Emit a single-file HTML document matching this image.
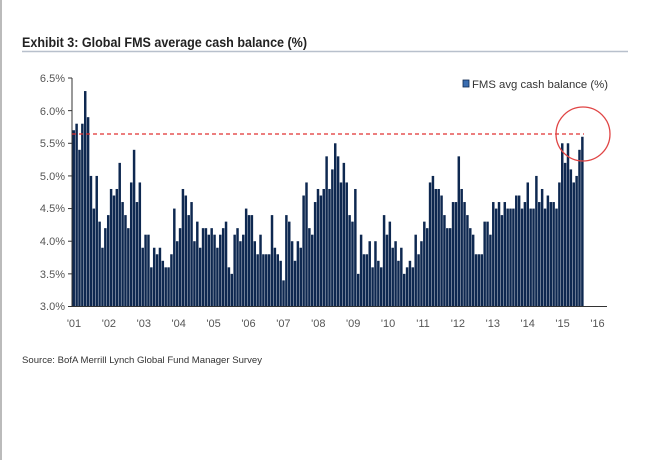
<!DOCTYPE html>
<html><head><meta charset="utf-8"><style>
body{margin:0;background:#fff;width:650px;height:460px;overflow:hidden}
svg{display:block}
</style></head><body>
<svg id="s" width="650" height="460" xmlns="http://www.w3.org/2000/svg" font-family="Liberation Sans, sans-serif">
<rect x="0" y="0" width="2" height="460" fill="#bbb"/>
<text x="22" y="47" font-size="13.5" font-weight="bold" fill="#222" textLength="285" lengthAdjust="spacingAndGlyphs">Exhibit 3: Global FMS average cash balance (%)</text>
<line x1="22" y1="51.5" x2="628" y2="51.5" stroke="#b8c0cc" stroke-width="1.5"/>
<g font-size="11" fill="#555" text-anchor="end">
<text x="65" y="82">6.5%</text><text x="65" y="115">6.0%</text><text x="65" y="147">5.5%</text><text x="65" y="180">5.0%</text><text x="65" y="212">4.5%</text><text x="65" y="245">4.0%</text><text x="65" y="278">3.5%</text><text x="65" y="310">3.0%</text>
</g>
<g id="bars" fill="#0e2850"></g>
<line x1="72" y1="78" x2="72" y2="307" stroke="#333" stroke-width="1"/>
<line x1="72" y1="306.5" x2="607" y2="306.5" stroke="#333" stroke-width="1"/>
<g id="ticks" stroke="#333"></g>
<g font-size="11" fill="#555" text-anchor="middle" id="xl"></g>
<line x1="72" y1="134" x2="584" y2="134" stroke="#e03030" stroke-width="1.3" stroke-dasharray="4,3"/>
<circle cx="583" cy="134" r="27" fill="none" stroke="#e04545" stroke-width="1.3"/>
<rect x="463" y="80" width="6" height="7" fill="#3a6db0" stroke="#0e2850" stroke-width="0.8"/>
<text x="472" y="88" font-size="11" fill="#333" textLength="136" lengthAdjust="spacingAndGlyphs">FMS avg cash balance (%)</text>
<text x="22" y="363" font-size="9.5" fill="#333" textLength="240" lengthAdjust="spacingAndGlyphs">Source: BofA Merrill Lynch Global Fund Manager Survey</text>
</svg>
<script>
var v=[5.7,5.8,5.4,5.8,6.3,5.9,5.0,4.5,5.0,4.3,3.9,4.2,
4.4,4.8,4.7,4.8,5.2,4.6,4.4,4.2,4.9,5.4,4.6,4.9,
3.9,4.1,4.1,3.6,3.9,3.8,3.9,3.7,3.6,3.6,3.8,4.5,
4.0,4.2,4.8,4.7,4.4,4.6,4.0,4.3,3.9,4.2,4.2,4.1,
4.2,4.1,3.9,4.1,4.2,4.3,3.6,3.5,4.1,4.2,4.0,4.1,
4.5,4.4,4.4,4.0,3.8,4.1,3.8,3.8,3.8,4.4,3.9,3.8,
3.7,3.4,4.4,4.3,4.0,3.7,4.0,3.9,4.7,4.9,4.2,4.1,
4.6,4.8,4.7,4.8,5.3,4.8,5.1,5.5,5.3,4.9,5.2,4.9,
4.4,4.3,4.8,3.5,4.1,3.8,3.8,4.0,3.6,4.0,3.7,3.6,
4.4,4.1,4.3,3.9,4.0,3.7,3.9,3.5,3.6,3.7,3.6,4.1,
3.8,4.0,4.3,4.2,4.9,5.0,4.8,4.8,4.7,4.4,4.2,4.2,
4.6,4.6,5.3,4.8,4.6,4.4,4.2,4.1,3.8,3.8,3.8,4.3,
4.3,4.1,4.6,4.5,4.6,4.4,4.6,4.5,4.5,4.5,4.7,4.7,
4.5,4.6,4.9,4.5,4.5,5.0,4.6,4.8,4.5,4.7,4.6,4.6,
4.5,4.9,5.5,5.2,5.5,5.1,4.9,5.0,5.4,5.6];
var ns="http://www.w3.org/2000/svg",g=document.getElementById('bars');
var x0=72.5,x1=584,bw=(x1-x0)/v.length;
function Y(p){return 306.5-(p-3)/3.5*228.5;}
v.forEach(function(p,i){var r=document.createElementNS(ns,'rect');
r.setAttribute('x',x0+i*bw);r.setAttribute('width',bw-0.4);
r.setAttribute('y',Y(p));r.setAttribute('height',306.5-Y(p));g.appendChild(r);});
var t=document.getElementById('ticks'),xl=document.getElementById('xl');
for(var k=0;k<8;k++){var l=document.createElementNS(ns,'line');l.setAttribute('x1',68);l.setAttribute('x2',72);
var yy=78+k*228.5/7;l.setAttribute('y1',yy);l.setAttribute('y2',yy);t.appendChild(l);}
var yr=['01','02','03','04','05','06','07','08','09','10','11','12','13','14','15','16'];
yr.forEach(function(s,i){var e=document.createElementNS(ns,'text');e.setAttribute('x',74+i*34.9);e.setAttribute('y',327);e.textContent="'"+s;xl.appendChild(e);});
</script>
</body></html>
